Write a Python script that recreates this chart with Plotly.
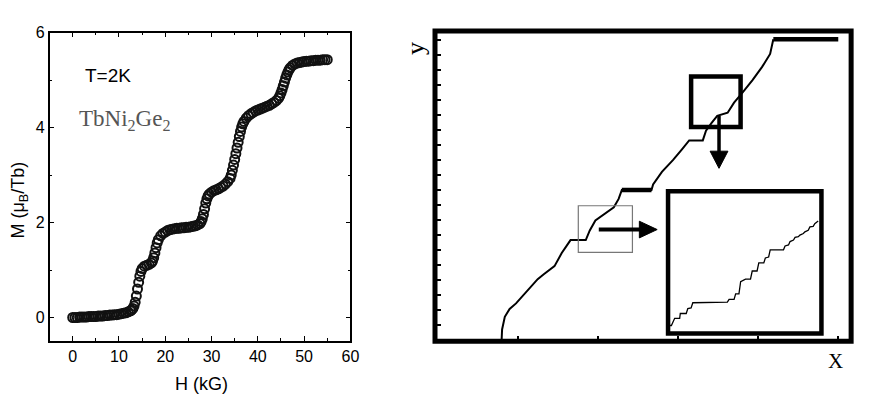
import plotly.graph_objects as go

# the page body adds an 8 px margin; the figure is sized so it ends at 872x400
OFF = 8
W, H_PX = 872 - OFF, 400 - OFF

# ---------------- Left panel data: M(H) of TbNi2Ge2 at T = 2 K ----------------
field_kG = [
    0, 0.5, 1, 1.5, 2, 2.5, 3, 3.5, 4, 4.5,
    5, 5.5, 6, 6.5, 7, 7.5, 8, 8.5, 9, 9.5,
    10, 10.5, 11, 11.5, 12, 12.5, 12.75, 13, 13.25, 13.5,
    13.75, 14, 14.25, 14.5, 14.75, 15, 15.5, 16, 16.5, 17,
    17.25, 17.5, 17.75, 18, 18.25, 18.5, 19, 19.5, 20, 20.5,
    21, 21.5, 22, 22.5, 23, 23.5, 24, 24.5, 25, 25.5,
    26, 26.5, 27, 27.5, 27.75, 28, 28.25, 28.5, 28.75, 29,
    29.25, 29.5, 30, 30.5, 31, 31.5, 32, 32.5, 33, 33.5,
    34, 34.25, 34.5, 34.75, 35, 35.25, 35.5, 35.75, 36, 36.25,
    36.5, 36.75, 37, 37.5, 38, 38.5, 39, 39.5, 40, 40.5,
    41, 41.5, 42, 42.5, 43, 43.5, 44, 44.5, 44.75, 45,
    45.25, 45.5, 45.75, 46, 46.25, 46.5, 46.75, 47, 47.5, 48,
    48.5, 49, 49.5, 50, 50.5, 51, 51.5, 52, 52.5, 53,
    53.5, 54, 54.5, 55,
]
moment_muB = [
    0.00, 0.00, 0.00, 0.01, 0.01, 0.01, 0.01, 0.02, 0.02, 0.02,
    0.02, 0.03, 0.03, 0.03, 0.04, 0.04, 0.05, 0.05, 0.06, 0.06,
    0.07, 0.08, 0.09, 0.10, 0.12, 0.14, 0.16, 0.19, 0.24, 0.32,
    0.45, 0.60, 0.74, 0.87, 0.97, 1.03, 1.08, 1.10, 1.12, 1.15,
    1.19, 1.26, 1.36, 1.47, 1.57, 1.64, 1.72, 1.77, 1.80, 1.83,
    1.85, 1.86, 1.87, 1.88, 1.88, 1.89, 1.89, 1.90, 1.90, 1.91,
    1.92, 1.93, 1.95, 1.98, 2.02, 2.08, 2.17, 2.29, 2.41, 2.50,
    2.56, 2.60, 2.64, 2.67, 2.69, 2.71, 2.74, 2.77, 2.81, 2.86,
    2.93, 3.00, 3.10, 3.21, 3.33, 3.45, 3.57, 3.69, 3.81, 3.92,
    4.01, 4.08, 4.13, 4.20, 4.25, 4.29, 4.32, 4.35, 4.37, 4.39,
    4.41, 4.43, 4.45, 4.47, 4.50, 4.53, 4.57, 4.62, 4.67, 4.73,
    4.80, 4.88, 4.96, 5.04, 5.11, 5.17, 5.22, 5.26, 5.31, 5.34,
    5.36, 5.37, 5.38, 5.39, 5.40, 5.40, 5.41, 5.41, 5.42, 5.42,
    5.42, 5.43, 5.43, 5.43,
]
left_xticks = [0, 10, 20, 30, 40, 50, 60]
left_yticks = [0, 2, 4, 6]

# ---------------- Right panel: schematic staircase ----------------
zero_x = [0.0, 0.80]
zero_y = [0.0, 0.0]
stair_x = [0.80, 0.806, 0.84, 0.90, 0.98, 1.05, 1.12, 1.17, 1.25, 1.33, 1.46, 1.55, 1.66,
           1.85, 1.90, 1.97, 2.08, 2.20, 2.26, 2.30,
           2.67, 2.69, 2.80, 2.94, 3.05, 3.14,
           3.31, 3.35, 3.42, 3.49, 3.62, 3.70, 3.80, 3.93, 4.05, 4.15, 4.19]
stair_y = [0.0, 0.72, 1.56, 2.08, 2.45, 2.87, 3.30, 3.65, 4.06, 4.40, 4.93, 5.80, 6.66,
           6.66, 7.30, 7.97, 8.40, 8.84, 9.40, 9.99,
           9.99, 10.36, 11.20, 11.99, 12.70, 13.29,
           13.29, 13.94, 14.45, 14.92, 15.13, 15.80, 16.44, 17.30, 18.18, 19.04, 20.02]
plateau1_x = [2.30, 2.67]
plateau1_y = [9.99, 9.99]
plateau2_x = [4.19, 5.00]
plateau2_y = [20.02, 20.02]
right_xticks = [1, 2, 3, 4, 5]
right_yticks = list(range(0, 21))

# inset (magnified) staircase, arbitrary units 0..10
inset_x = [0.23, 0.34, 0.55, 0.87, 0.91, 1.29, 1.39, 1.60, 1.71, 3.92, 4.03, 4.35, 4.45, 4.66,
           4.77, 5.08, 5.40, 5.51, 5.82, 5.93, 6.25, 6.35, 6.56, 6.66, 7.51, 7.61, 7.83,
           7.93, 8.15, 8.25, 8.46, 8.56, 8.78, 8.88, 9.09, 9.20, 9.41, 9.51, 9.73]
inset_y = [0.62, 0.62, 1.12, 1.12, 1.46, 1.46, 1.80, 1.85, 2.21, 2.26, 2.45, 2.45, 2.83, 2.83,
           3.68, 3.86, 3.86, 4.43, 4.43, 5.00, 5.00, 5.34, 5.41, 5.91, 5.91, 6.18, 6.25,
           6.49, 6.60, 6.78, 6.83, 6.94, 7.05, 7.17, 7.28, 7.51, 7.55, 7.74, 7.92]


def px(x):
    return (x - OFF) / W


def py(y):
    return 1 - (y - OFF) / H_PX


fig = go.Figure()

fig.add_trace(go.Scatter(
    x=field_kG, y=moment_muB, mode="markers", xaxis="x", yaxis="y",
    marker=dict(symbol="circle-open", size=9, color="#111",
                line=dict(width=2, color="#111")),
    hoverinfo="skip"))

fig.add_trace(go.Scatter(x=zero_x, y=zero_y, mode="lines", xaxis="x2", yaxis="y2",
                         line=dict(color="#888", width=1.2), hoverinfo="skip"))
fig.add_trace(go.Scatter(x=stair_x, y=stair_y, mode="lines", xaxis="x2", yaxis="y2",
                         line=dict(color="#000", width=2), hoverinfo="skip"))
fig.add_trace(go.Scatter(x=plateau1_x, y=plateau1_y, mode="lines", xaxis="x2", yaxis="y2",
                         line=dict(color="#000", width=4.5), hoverinfo="skip"))
fig.add_trace(go.Scatter(x=plateau2_x, y=plateau2_y, mode="lines", xaxis="x2", yaxis="y2",
                         line=dict(color="#000", width=4.5), hoverinfo="skip"))
fig.add_trace(go.Scatter(x=inset_x, y=inset_y, mode="lines", xaxis="x3", yaxis="y3",
                         line=dict(color="#000", width=1.3), hoverinfo="skip"))

axis_common = dict(showgrid=False, zeroline=False)

shapes = []
# main right frame
shapes.append(dict(type="rect", xref="paper", yref="paper",
                   x0=px(439.5), x1=px(860), y0=py(340), y1=py(23.3),
                   line=dict(color="#000", width=5), layer="above"))
# small grey box
shapes.append(dict(type="rect", xref="paper", yref="paper",
                   x0=px(584.3), x1=px(639), y0=py(249.3), y1=py(201.7),
                   line=dict(color="#777", width=1.2), layer="above"))
# upper black box
shapes.append(dict(type="rect", xref="paper", yref="paper",
                   x0=px(698.3), x1=px(748.3), y0=py(121.3), y1=py(69.7),
                   line=dict(color="#000", width=4.5), layer="above"))
# inset frame
shapes.append(dict(type="rect", xref="paper", yref="paper",
                   x0=px(675), x1=px(830), y0=py(332), y1=py(187),
                   line=dict(color="#000", width=4.5), layer="above"))
# down arrow shaft + head
shapes.append(dict(type="line", xref="paper", yref="paper",
                   x0=px(726.5), x1=px(726.5), y0=py(110), y1=py(148),
                   line=dict(color="#000", width=3.5), layer="above"))
shapes.append(dict(type="path", xref="paper", yref="paper",
                   path=f"M {px(717.5)} {py(146)} L {px(735.5)} {py(146)} L {px(726.5)} {py(163.5)} Z",
                   fillcolor="#000", line=dict(color="#000", width=1), layer="above"))
# right arrow shaft + head
shapes.append(dict(type="line", xref="paper", yref="paper",
                   x0=px(605), x1=px(648), y0=py(226), y1=py(226),
                   line=dict(color="#000", width=4), layer="above"))
shapes.append(dict(type="path", xref="paper", yref="paper",
                   path=f"M {px(646)} {py(217.5)} L {px(646)} {py(234.5)} L {px(664)} {py(226)} Z",
                   fillcolor="#000", line=dict(color="#000", width=1), layer="above"))

annotations = [
    dict(text="T=2K", x=px(109), y=py(68.5), xref="paper", yref="paper", showarrow=False,
         font=dict(family="Liberation Sans, Arial", size=19, color="#000"),
         xanchor="center", yanchor="middle"),
    dict(text="TbNi<sub>2</sub>Ge<sub>2</sub>", x=px(78), y=py(114), xref="paper", yref="paper",
         showarrow=False, font=dict(family="Liberation Serif, Times New Roman", size=23, color="#555"),
         xanchor="left", yanchor="middle"),
    dict(text="H (kG)", x=px(203.5), y=py(383.5), xref="paper", yref="paper", showarrow=False,
         font=dict(family="Liberation Sans, Arial", size=18, color="#000"),
         xanchor="center", yanchor="middle"),
    dict(text="M (\u03bc<sub>B</sub>/Tb)", x=px(19.5), y=py(196), xref="paper", yref="paper",
         showarrow=False, textangle=-90, borderpad=0,
         font=dict(family="Liberation Sans, Arial", size=18, color="#000"),
         xanchor="center", yanchor="middle"),
    dict(text="y", x=px(420), y=py(41), xref="paper", yref="paper", showarrow=False,
         textangle=-90, font=dict(family="Liberation Serif, Times New Roman", size=26, color="#000"),
         xanchor="center", yanchor="middle"),
    dict(text="X", x=px(844), y=py(360.5), xref="paper", yref="paper", showarrow=False,
         font=dict(family="Liberation Serif, Times New Roman", size=21, color="#000"),
         xanchor="center", yanchor="middle"),
]

fig.update_layout(
    width=W, height=H_PX,
    margin=dict(l=0, r=0, t=0, b=0),
    paper_bgcolor="white", plot_bgcolor="white",
    showlegend=False,
    xaxis=dict(domain=[px(50), px(354)], range=[-5, 60], anchor="y",
               tickvals=left_xticks, ticks="inside", ticklen=5, tickwidth=1.3, tickcolor="#000",
               minor=dict(dtick=5, tick0=0, ticks="inside", ticklen=3, tickcolor="#000"),
               showline=True, linecolor="#000", linewidth=1.5, mirror="ticks",
               tickfont=dict(family="Liberation Sans, Arial", size=16, color="#000"),
               **axis_common),
    yaxis=dict(domain=[py(340), py(25)], range=[-0.5, 6], anchor="x",
               tickvals=left_yticks, ticks="inside", ticklen=5, tickwidth=1.3, tickcolor="#000",
               minor=dict(dtick=1, tick0=0, ticks="inside", ticklen=3, tickcolor="#000"),
               showline=True, linecolor="#000", linewidth=1.5, mirror="ticks",
               tickfont=dict(family="Liberation Sans, Arial", size=16, color="#000"),
               **axis_common),
    xaxis2=dict(domain=[px(439.5), px(860)], range=[(439.5 - 442) / 81, (860 - 442) / 81],
                anchor="y2", tickvals=right_xticks, ticks="inside", ticklen=5, tickwidth=2,
                tickcolor="#000", showticklabels=False, showline=False, **axis_common),
    yaxis2=dict(domain=[py(340), py(23.3)], range=[(339 - 340) / 15.35, (339 - 23.3) / 15.35],
                anchor="x2", tickvals=right_yticks, ticks="inside", ticklen=6, tickwidth=2,
                tickcolor="#000", showticklabels=False, showline=False, **axis_common),
    xaxis3=dict(domain=[px(673), px(831)], range=[0, 10], anchor="y3", visible=False),
    yaxis3=dict(domain=[py(333), py(187)], range=[0, 10], anchor="x3", visible=False),
    shapes=shapes,
    annotations=annotations,
)

fig.write_html("out.html")
